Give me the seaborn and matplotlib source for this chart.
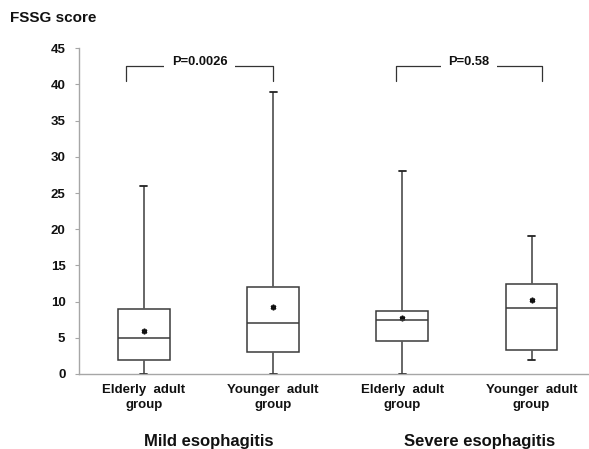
import numpy as np
import pandas as pd
import matplotlib
matplotlib.use("Agg")
import matplotlib.pyplot as plt
import seaborn as sns

# ---- data ----
groups = ["Mild Elderly", "Mild Younger", "Severe Elderly", "Severe Younger"]
tick_labels = ["Elderly  adult\ngroup", "Younger  adult\ngroup",
               "Elderly  adult\ngroup", "Younger  adult\ngroup"]
whisker_low = [0, 0, 0, 2]
q1 = [2, 3, 4.5, 3.3]
median = [5, 7, 7.5, 9.1]
q3 = [9, 12, 8.7, 12.4]
whisker_high = [26, 39, 28, 19]
means = [6.0, 9.3, 7.7, 10.2]
severity_labels = ["Mild esophagitis", "Severe esophagitis"]
p_values = ["P=0.0026", "P=0.58"]
y_label = "FSSG score"
y_ticks = list(range(0, 50, 5))

# five-number summaries as long-form table (percentiles of 5 points = the summary)
rows = []
for g, lo, a, m, b, hi in zip(groups, whisker_low, q1, median, q3, whisker_high):
    for v in (lo, a, m, b, hi):
        rows.append({"group": g, "score": v})
df = pd.DataFrame(rows)

sns.set_style("white")
plt.rcParams["font.family"] = ["Liberation Sans", "DejaVu Sans"]
plt.rcParams["font.weight"] = "bold"

W, H = 589, 449
fig = plt.figure(figsize=(W / 100, H / 100), dpi=100)
ax = fig.add_axes([79.3 / W, 1 - 374 / H, 516.8 / W, 325.7 / H])

spine_col = "#a6a6a6"
box_col = "#3a3a3a"
whisk_col = "#5a5a5a"

sns.boxplot(data=df, x="group", y="score", order=groups, whis=(0, 100),
            width=0.4, color="white", linecolor=box_col, linewidth=1.1,
            showfliers=False, capwidths=0.055,
            whiskerprops=dict(color=whisk_col, linewidth=1.3),
            capprops=dict(color="#222222", linewidth=1.3),
            medianprops=dict(color=box_col, linewidth=1.1),
            ax=ax)

sns.pointplot(x=groups, y=means, order=groups, linestyle="none",
              marker=(6, 2, 0), markersize=4, markeredgewidth=1.2,
              color="#111111", errorbar=None, ax=ax)

ax.set_xlim(-0.5, 3.5)
ax.set_ylim(0, 45)
ax.set_yticks(y_ticks)
ax.set_xticks(range(len(groups)))
ax.set_xticklabels(tick_labels, fontsize=9.5, fontweight="bold",
                   linespacing=1.35, color="#111111")
ax.set_xticks([0.5, 1.5, 2.5], minor=True)
ax.tick_params(axis="x", which="major", length=0, pad=7)
ax.tick_params(axis="x", which="minor", length=3, width=0.8,
               color=spine_col, direction="out")
ax.tick_params(axis="y", length=3, width=0.8, color=spine_col,
               direction="out", pad=7, labelsize=9.5, labelcolor="#111111", left=True)
for lbl in ax.get_yticklabels():
    lbl.set_fontweight("bold")
ax.set_xlabel("")
ax.set_ylabel("")
for side in ("top", "right"):
    ax.spines[side].set_visible(False)
for side in ("left", "bottom"):
    ax.spines[side].set_color(spine_col)
    ax.spines[side].set_linewidth(1.0)

# significance brackets
bracket_x = [(-0.14, 1.0), (1.95, 3.08)]
bracket_top = 42.6
bracket_bottom = 40.5
for (x0, x1), ptxt in zip(bracket_x, p_values):
    ax.plot([x0, x0, x1, x1], [bracket_bottom, bracket_top, bracket_top, bracket_bottom],
            color="#333333", linewidth=0.9, clip_on=False)
    ax.text((x0 + x1) / 2, 43.1, ptxt, ha="center", va="center",
            fontsize=9.3, fontweight="bold", color="#111111",
            bbox=dict(facecolor="white", edgecolor="none", pad=5.5))

# severity group labels
for xc, txt in zip([0.504, 2.60], severity_labels):
    ax.text(xc, -0.208, txt, transform=ax.get_xaxis_transform(),
            ha="center", va="center", fontsize=12, fontweight="bold",
            color="#111111")

fig.text(10 / W, 1 - 18 / H, y_label, ha="left", va="center",
         fontsize=11, fontweight="bold", color="#111111")

fig.savefig("out.png", dpi=100)
